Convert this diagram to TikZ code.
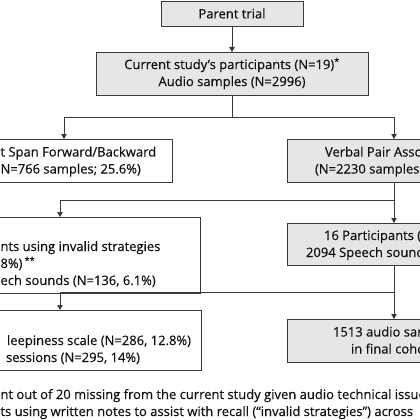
\documentclass[tikz,border=0pt]{standalone}
\usepackage{fontspec}
\setmainfont{Open Sans}[FakeBold=0.4]
\usetikzlibrary{arrows.meta}
\definecolor{linec}{HTML}{3A3A3A}
\definecolor{boxg}{HTML}{E6E6E6}
\definecolor{txtc}{HTML}{111111}
\begin{document}
\begin{tikzpicture}[x=1pt,y=-1pt,
  every node/.style={text=txtc},
  box/.style={draw=linec, line width=0.9pt, inner sep=0pt, outer sep=0pt},
  gbox/.style={box, fill=boxg},
  wbox/.style={box, fill=white},
  lbl/.style={font=\fontsize{13}{17}\selectfont, inner sep=0pt, outer sep=0pt},
  ln/.style={draw=linec, line width=0.9pt},
  arr/.style={ln, -{Triangle[length=5pt,width=5.5pt]}}]
\useasboundingbox (0,0) rectangle (420,420);
\clip (0,0) rectangle (420,420);
\fill[white] (0,0) rectangle (420,420);

% boxes
\node[gbox, minimum width=142pt, minimum height=25pt, lbl] (parent) at (232,13.5) {Parent trial};
\node[gbox, minimum width=272pt, minimum height=43pt, lbl, align=center] (study) at (232,73.5) {Current study’s participants (N=19)\textsuperscript{*}\\Audio samples (N=2996)};
\node[wbox, minimum width=216pt, minimum height=43pt] (ds) at (64,160.5) {};
\node[gbox, minimum width=214pt, minimum height=43pt] (vpa) at (394,160.5) {};
\node[wbox, minimum width=280pt, minimum height=76pt] (inv) at (60,255) {};
\node[gbox, minimum width=214pt, minimum height=42pt] (p16) at (394,244) {};
\node[wbox, minimum width=282pt, minimum height=60pt] (slp) at (60,340) {};
\node[gbox, minimum width=214pt, minimum height=43pt] (fin) at (394,340.5) {};

% texts
\node[lbl, anchor=base west] (ds1) at (0.5,156.5) {t Span Forward/Backward};
\node[lbl, anchor=base west] (ds2) at (0.5,173.5) {N=766 samples; 25.6\%)};
\node[lbl, anchor=base west] (vpa1) at (325,156.5) {Verbal Pair Assoc};
\node[lbl, anchor=base west] (vpa2) at (315,173.5) {(N=2230 samples};
\node[lbl, anchor=base west] (inv1) at (0.5,251) {nts using invalid strategies};
\node[lbl, anchor=base west] (inv2) at (0.5,268) {8\%)\,\textsuperscript{**}};
\node[lbl, anchor=base west] (inv3) at (0.5,285) {ech sounds (N=136, 6.1\%)};
\node[lbl, anchor=base west] (p161) at (324,240) {16 Participants (};
\node[lbl, anchor=base west] (p162) at (306,257) {2094 Speech sound};
\node[lbl, anchor=base east] (slp1) at (191,345) {leepiness scale (N=286, 12.8\%)};
\node[lbl, anchor=base east] (slp2) at (140,362) {sessions (N=295, 14\%)};
\node[lbl, anchor=base west] (fin1) at (333,336.5) {1513 audio sam};
\node[lbl, anchor=base west] (fin2) at (351,353.5) {in final coho};
\node[lbl, anchor=base west] (fn1) at (0.5,399) {nt out of 20 missing from the current study given audio technical issue};
\node[lbl, anchor=base west] (fn2) at (0.5,416) {ts using written notes to assist with recall (“invalid strategies”) across};

% connectors
\coordinate (s1) at (232,117);
\coordinate (s2) at (394,200);
\coordinate (s3) at (394,292);
\draw[arr] (parent.south) -- (study.north);
\draw[ln] (study.south) -- (s1);
\draw[arr] (s1) -| (ds.north);
\draw[arr] (s1) -| (vpa.north);
\draw[arr] (vpa.south) -- (p16.north);
\draw[arr] (s2) -| (inv.north);
\draw[arr] (p16.south) -- (fin.north);
\draw[arr] (s3) -| (slp.north);
\end{tikzpicture}
\end{document}
